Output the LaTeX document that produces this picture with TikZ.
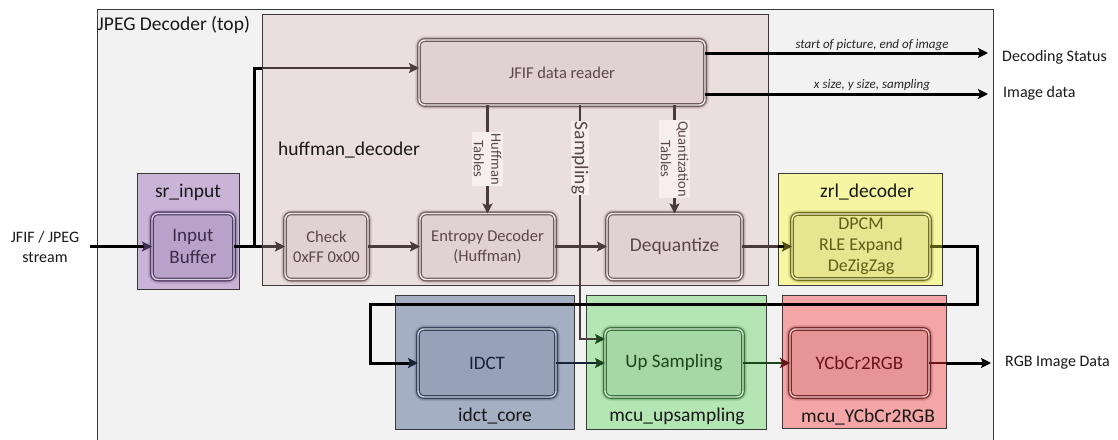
\documentclass[tikz,border=0pt]{standalone}
\usepackage{fontspec}
\setmainfont{Carlito}
\usetikzlibrary{arrows.meta,calc}

% panel colours
\definecolor{outerbg}{HTML}{F2F2F2}
\definecolor{framec}{HTML}{3A3A3A}
\definecolor{hufbg}{HTML}{EBDEDE}
\definecolor{hufblk}{HTML}{E0D2D2}
\definecolor{hufedge}{HTML}{6E5A5A}
\definecolor{huftxt}{HTML}{5A4848}
\definecolor{brownln}{HTML}{4A3B3B}
\definecolor{lblbg}{HTML}{F7EEEE}
\definecolor{srbg}{HTML}{C9B3D7}
\definecolor{srblk}{HTML}{B9A2C9}
\definecolor{sredge}{HTML}{4E3A63}
\definecolor{srtxt}{HTML}{3A2C48}
\definecolor{zrlbg}{HTML}{F5F5A2}
\definecolor{zrlblk}{HTML}{E6E690}
\definecolor{zrledge}{HTML}{6F6F1C}
\definecolor{zrltxt}{HTML}{5E5E18}
\definecolor{idctbg}{HTML}{A4AFC3}
\definecolor{idctblk}{HTML}{97A2B8}
\definecolor{idctedge}{HTML}{34415A}
\definecolor{idcttxt}{HTML}{18233A}
\definecolor{upbg}{HTML}{B4E6B4}
\definecolor{upblk}{HTML}{A5D8A5}
\definecolor{upedge}{HTML}{3A723A}
\definecolor{uptxt}{HTML}{1C461C}
\definecolor{yccbg}{HTML}{F4A5A5}
\definecolor{yccblk}{HTML}{E69494}
\definecolor{yccedge}{HTML}{782828}
\definecolor{ycctxt}{HTML}{6A1515}

\newcommand\fsz[2]{\fontsize{#1}{#2}\selectfont}

\tikzset{
  cont/.style={draw=framec, line width=0.8pt, fill=#1, inner sep=0pt, outer sep=0pt},
  % bevelled block: soft dark halo, then a light band between two dark rims
  blk/.style n args={3}{rounded corners=6pt, fill=#1, text=#3, align=center,
    inner sep=0pt, outer sep=0pt,
    preaction={draw=#2, draw opacity=0.15, line width=8pt},
    preaction={draw=#2, draw opacity=0.35, line width=5pt},
    draw=#2, double=#1!50!white, line width=1.1pt, double distance=1.4pt},
  ttl/.style={text=black!90, font=\fsz{19.5}{22}, inner sep=0pt},
  side/.style={text=black!90, font=\fsz{16}{20}, inner sep=0pt, align=center},
  note/.style={text=black!85, font=\fsz{13}{15}\itshape, inner sep=0pt},
  tbl/.style={fill=lblbg, text=huftxt, rotate=-90, align=center, inner sep=1.5pt, font=\fsz{14.5}{17.5}},
  thk/.style={line width=3pt, draw=black},
  brn/.style={line width=2.6pt, draw=brownln},
  arw/.style={-{Stealth[length=10pt, width=10pt, inset=2pt]}},
  arwc/.style={-{Stealth[length=10pt, width=10pt, inset=2pt, color=#1]}},
}

\begin{document}
\begin{tikzpicture}[x=1pt, y=-1pt]
\clip (0,0) rectangle (1118,439);
\fill[white] (0,0) rectangle (1118,439);

% ---- containers ----
\node[cont=outerbg, minimum width=896pt, minimum height=436pt] (top) at (545,227) {};
\node[cont=hufbg, minimum width=506pt, minimum height=271pt] (huff) at (515,149.5) {};
\node[cont=srbg, minimum width=102pt, minimum height=116pt] (srbox) at (188,231) {};
\node[cont=zrlbg, minimum width=164pt, minimum height=112pt] (zrlbox) at (860,229) {};
\node[cont=idctbg, minimum width=179pt, minimum height=134pt] (idctbox) at (484.5,362) {};
\node[cont=upbg, minimum width=180pt, minimum height=134pt] (upbox) at (676,362) {};
\node[cont=yccbg, minimum width=164pt, minimum height=133pt] (yccbox) at (864,361.5) {};

% ---- container titles ----
\node[ttl, anchor=base west] (toplbl) at (97.5,30.5) {JPEG Decoder (top)};
\node[ttl, anchor=west] (huflbl) at (278,150) {huffman\_decoder};
\node[ttl] (srlbl) at (188,192) {sr\_input};
\node[ttl] (zrllbl) at (867,192) {zrl\_decoder};
\node[ttl] (idctlbl) at (495,416) {idct\_core};
\node[ttl] (uplbl) at (677,416) {mcu\_upsampling};
\node[ttl] (ycclbl) at (868,417) {mcu\_YCbCr2RGB};

% ---- processing blocks ----
\node[blk={srblk}{sredge}{srtxt}, minimum width=82pt, minimum height=66pt, font=\fsz{19}{22}] (inbuf) at (193,246.5) {Input\\Buffer};
\node[blk={hufblk}{hufedge}{huftxt}, minimum width=83pt, minimum height=66pt, font=\fsz{16.5}{20}] (check) at (326.5,246.5) {Check\\0xFF 0x00};
\node[blk={hufblk}{hufedge}{huftxt}, minimum width=135pt, minimum height=66pt, font=\fsz{16.5}{20}] (entropy) at (487.5,246.5) {Entropy Decoder\\(Huffman)};
\node[blk={hufblk}{hufedge}{huftxt}, minimum width=135pt, minimum height=66pt, font=\fsz{19.5}{22}] (dequant) at (674.5,246.5) {Dequantize};
\node[blk={hufblk}{hufedge}{huftxt}, minimum width=286pt, minimum height=65pt, font=\fsz{16.5}{20}] (reader) at (562,72.5) {JFIF data reader};
\node[blk={zrlblk}{zrledge}{zrltxt}, minimum width=138pt, minimum height=65pt, font=\fsz{18}{21}] (zrl) at (861,246.5) {DPCM\\RLE Expand\\DeZigZag};
\node[blk={idctblk}{idctedge}{idcttxt}, minimum width=138pt, minimum height=68pt, font=\fsz{19}{22}] (idct) at (487,363) {IDCT};
\node[blk={upblk}{upedge}{uptxt}, minimum width=138pt, minimum height=68pt, font=\fsz{19}{22}] (upsamp) at (674,363) {Up Sampling};
\node[blk={yccblk}{yccedge}{ycctxt}, minimum width=139pt, minimum height=68pt, font=\fsz{19}{22}] (ycc) at (859.5,363) {YCbCr2RGB};

% ---- helper coordinates ----
\coordinate (inL) at (90,246.5);
\coordinate (jn) at (254,246.5);
\coordinate (rdin) at (0,68);
\coordinate (smp) at (580,339);
\coordinate (dsend) at (988,53);
\coordinate (idend) at (988,94);
\coordinate (r1) at (977,304);
\coordinate (l1) at (370,304);
\coordinate (rgbend) at (991,363);

% ---- stream input ----
\node[side, font=\fsz{16}{20}] (inlbl) at (45,247) {JFIF / JPEG\\stream};
\draw[thk, arwc=sredge!80!black] (inL) -- (inbuf.west);
\draw[thk] (inbuf.east) -- (huff.west |- inbuf.east);
\draw[thk] (jn) |- (huff.west |- rdin);
\draw[brn, arw] (huff.west |- inbuf.east) -- (check.west);
\draw[brn, arw] (huff.west |- rdin) -- (reader.west |- rdin);

% ---- huffman decoder internals ----
\draw[brn, arw] (check.east) -- (entropy.west);
\draw[brn, arw] (entropy.east) -- (dequant.west);
\draw[brn, arw] (reader.south -| entropy) -- (entropy.north);
\draw[brn, arw] (reader.south -| dequant) -- (dequant.north);
\draw[brn, arwc=uptxt] (reader.south -| smp) |- (upsamp.west |- smp);
\node[tbl] (hufftbl) at (487.5,159) {Huffman\\Tables};
\node[tbl] (quanttbl) at (674.5,159) {Quantization\\Tables};
\node[tbl, font=\fsz{19.5}{22}, inner sep=1pt] (samplbl) at (580,158) {Sampling};

% ---- status outputs ----
\draw[thk, arw] (reader.east |- dsend) -- (dsend);
\draw[thk, arw] (reader.east |- idend) -- (idend);
\node[note] (dsnote) at (872,45) {start of picture, end of image};
\node[note] (idnote) at (872,85) {x size, y size, sampling};
\node[side, anchor=west] (dslbl) at (1002,57) {Decoding Status};
\node[side, anchor=west] (idlbl) at (1003,93) {Image data};

% ---- dequantize to zrl decoder ----
\draw[brn] (dequant.east) -- (zrlbox.west |- dequant.east);
\draw[thk, arwc=zrledge!70!black] (zrlbox.west |- dequant.east) -- (zrl.west);

% ---- zrl decoder to idct ----
\draw[line width=3pt, draw=zrledge!80!black] (zrl.east) -- (zrlbox.east |- zrl.east);
\draw[thk, arwc=idcttxt] (zrlbox.east |- zrl.east) -| (r1) -- (l1) |- (idct.west);

% ---- idct, upsampling, colour conversion ----
\draw[line width=2.6pt, draw=idcttxt, arwc=uptxt] (idct.east) -- (upsamp.west);
\draw[line width=2.6pt, draw=uptxt] (upsamp.east) -- (yccbox.west |- upsamp.east);
\draw[thk, arwc=ycctxt] (yccbox.west |- upsamp.east) -- (ycc.west);
\draw[line width=2.6pt, draw=ycctxt] (ycc.east) -- (yccbox.east |- ycc.east);
\draw[thk, arw] (yccbox.east |- ycc.east) -- (rgbend);
\node[side, anchor=west] (rgblbl) at (1005,363) {RGB Image Data};
\end{tikzpicture}
\end{document}
